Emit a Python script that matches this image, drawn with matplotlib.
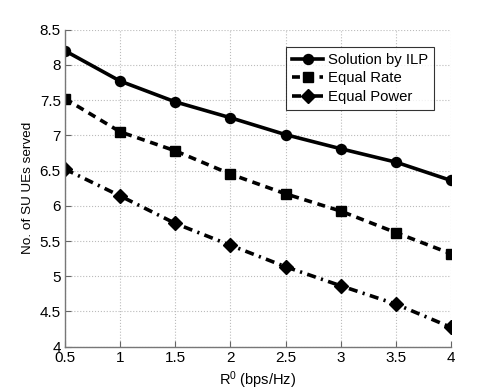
import matplotlib
matplotlib.use("Agg")
import matplotlib.pyplot as plt

plt.rcParams['font.family'] = ['Liberation Sans', 'DejaVu Sans']
plt.rcParams['mathtext.fontset'] = 'custom'
plt.rcParams['mathtext.rm'] = 'Liberation Sans'
plt.rcParams['mathtext.it'] = 'Liberation Sans'

rates = [0.5, 1, 1.5, 2, 2.5, 3, 3.5, 4]
ilp = [8.20, 7.77, 7.475, 7.25, 7.01, 6.81, 6.62, 6.36]
equal_rate = [7.52, 7.05, 6.78, 6.45, 6.17, 5.925, 5.62, 5.32]
equal_power = [6.52, 6.14, 5.75, 5.44, 5.135, 4.865, 4.605, 4.275]
xticks = [0.5, 1, 1.5, 2, 2.5, 3, 3.5, 4]
yticks = [4, 4.5, 5, 5.5, 6, 6.5, 7, 7.5, 8, 8.5]

fig = plt.figure(figsize=(4.98, 3.9), dpi=100)
ax = fig.add_axes([0.1305, 0.111, 0.775, 0.813])

ax.plot(rates, ilp, '-', color='black', lw=2.6, marker='o', ms=7.2, label='Solution by ILP')
ax.plot(rates, equal_rate, '--', color='black', lw=2.6, marker='s', ms=6.5, dashes=(2.2, 1.6), label='Equal Rate')
ax.plot(rates, equal_power, '-.', color='black', lw=2.6, marker='D', ms=7, dashes=(2.5, 1.5, 0.6, 1.5), label='Equal Power')

ax.set_xlim(0.5, 4)
ax.set_ylim(4, 8.5)
ax.set_xticks(xticks)
ax.set_xticklabels(['0.5', '1', '1.5', '2', '2.5', '3', '3.5', '4'])
ax.set_yticks(yticks)
ax.set_yticklabels(['4', '4.5', '5', '5.5', '6', '6.5', '7', '7.5', '8', '8.5'])
ax.tick_params(labelsize=11, direction='in', length=4, color='#666666', pad=3)
ax.grid(True, linestyle=':', color='#bbbbbb', lw=0.8)
for s in ['top', 'right']:
    ax.spines[s].set_visible(False)
for s in ['left', 'bottom']:
    ax.spines[s].set_color('#777777')
    ax.spines[s].set_linewidth(1.0)

ax.set_xlabel('R$^0$ (bps/Hz)', fontsize=10.5, labelpad=3)
ax.set_ylabel('No. of SU UEs served', fontsize=9.7, labelpad=4)

leg = ax.legend(loc='upper right', bbox_to_anchor=(0.956, 0.945), fontsize=10.7, frameon=True,
                fancybox=False, edgecolor='black', handlelength=2.1, borderpad=0.4,
                labelspacing=0.3, handletextpad=0.3, borderaxespad=0)
leg.get_frame().set_linewidth(0.8)

fig.savefig('out.png', dpi=100)
